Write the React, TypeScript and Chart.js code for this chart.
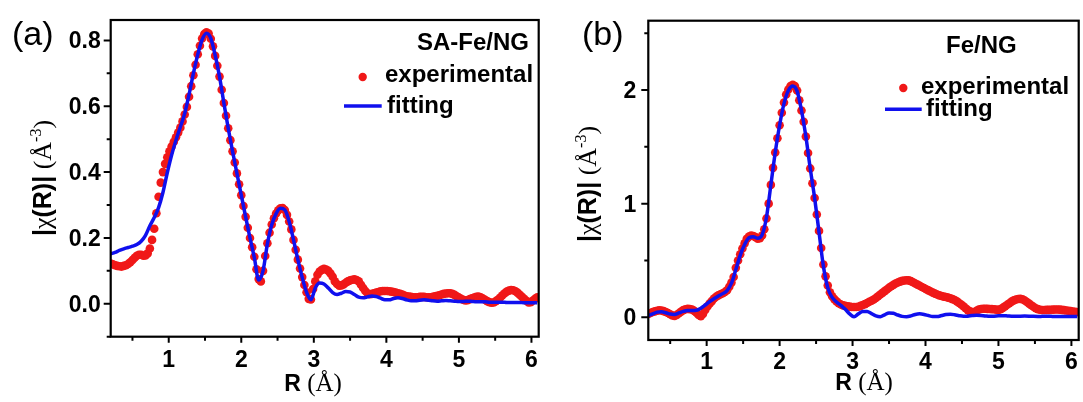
import React, { useEffect, useRef } from "react";
import { Chart, registerables } from "chart.js";
Chart.register(...registerables);

// sampling grid of the R axis (Å)
const R_START = 0.2;
const EXP_STEP = 0.03;
const FIT_STEP = 0.06;
const X_MIN = 0.2;
const X_MAX = 6.1;
const X_MAJOR = [1, 2, 3, 4, 5, 6];
const X_MINOR = [0.5, 1.5, 2.5, 3.5, 4.5, 5.5];

// (a) SA-Fe/NG
const A_Y_MAJOR = [0, 0.2, 0.4, 0.6, 0.8];
const A_Y_MINOR = [-0.1, 0.1, 0.3, 0.5, 0.7];
const A_EXP = [
  0.122, 0.120, 0.117, 0.115, 0.114, 0.113, 0.115, 0.117, 0.121, 0.126,
  0.133, 0.140, 0.146, 0.149, 0.149, 0.146, 0.147, 0.153, 0.168, 0.194,
  0.228, 0.275, 0.325, 0.368, 0.400, 0.425, 0.445, 0.463, 0.478, 0.492,
  0.506, 0.520, 0.535, 0.554, 0.575, 0.598, 0.629, 0.661, 0.694, 0.726,
  0.758, 0.784, 0.806, 0.819, 0.825, 0.821, 0.805, 0.782, 0.753, 0.723,
  0.690, 0.650, 0.610, 0.571, 0.533, 0.497, 0.463, 0.429, 0.396, 0.363,
  0.330, 0.297, 0.264, 0.231, 0.200, 0.172, 0.143, 0.105, 0.075, 0.068,
  0.100, 0.145, 0.184, 0.216, 0.241, 0.260, 0.274, 0.284, 0.290, 0.291,
  0.285, 0.270, 0.250, 0.226, 0.194, 0.164, 0.134, 0.107, 0.081, 0.057,
  0.035, 0.015, 0.013, 0.045, 0.068, 0.088, 0.098, 0.103, 0.106, 0.104,
  0.100, 0.092, 0.082, 0.068, 0.060, 0.055, 0.056, 0.059, 0.064, 0.068,
  0.071, 0.073, 0.074, 0.072, 0.068, 0.058, 0.048, 0.039, 0.032, 0.029,
  0.030, 0.032, 0.034, 0.036, 0.038, 0.039, 0.039, 0.039, 0.038, 0.037,
  0.036, 0.034, 0.032, 0.030, 0.028, 0.025, 0.023, 0.022, 0.021, 0.020,
  0.020, 0.020, 0.021, 0.021, 0.021, 0.020, 0.020, 0.020, 0.021, 0.023,
  0.024, 0.026, 0.028, 0.030, 0.031, 0.032, 0.032, 0.030, 0.027, 0.023,
  0.019, 0.015, 0.012, 0.010, 0.011, 0.014, 0.017, 0.019, 0.021, 0.022,
  0.020, 0.016, 0.012, 0.008, 0.005, 0.003, 0.004, 0.008, 0.013, 0.019,
  0.026, 0.032, 0.037, 0.040, 0.042, 0.041, 0.038, 0.033, 0.027, 0.021,
  0.015, 0.009, 0.004, 0.005, 0.010, 0.015, 0.020,
];
const A_FIT = [
  0.152, 0.156, 0.162, 0.167, 0.171, 0.175, 0.180, 0.190, 0.208, 0.237,
  0.262, 0.292, 0.338, 0.398, 0.452, 0.497, 0.537, 0.578, 0.635, 0.700,
  0.757, 0.802, 0.822, 0.806, 0.755, 0.690, 0.610, 0.533, 0.463, 0.396,
  0.330, 0.264, 0.200, 0.140, 0.072, 0.100, 0.182, 0.240, 0.274, 0.290,
  0.285, 0.250, 0.194, 0.134, 0.080, 0.035, 0.012, 0.048, 0.063, 0.060,
  0.048, 0.034, 0.028, 0.032, 0.037, 0.036, 0.028, 0.020, 0.018, 0.021,
  0.024, 0.022, 0.017, 0.012, 0.012, 0.016, 0.018, 0.016, 0.012, 0.009,
  0.009, 0.011, 0.012, 0.011, 0.009, 0.008, 0.009, 0.010, 0.009, 0.008,
  0.007, 0.007, 0.008, 0.007, 0.006, 0.006, 0.006, 0.005, 0.005, 0.005,
  0.005, 0.004, 0.004, 0.004, 0.004, 0.003, 0.003, 0.003, 0.003,
];

// (b) Fe/NG
const B_Y_MAJOR = [0, 1, 2];
const B_Y_MINOR = [0.5, 1.5, 2.5];
const B_EXP = [
  0.030, 0.038, 0.046, 0.052, 0.058, 0.062, 0.060, 0.054, 0.047, 0.038,
  0.027, 0.016, 0.012, 0.020, 0.035, 0.050, 0.063, 0.071, 0.074, 0.072,
  0.068, 0.056, 0.040, 0.020, 0.010, 0.030, 0.065, 0.095, 0.120, 0.142,
  0.165, 0.180, 0.193, 0.203, 0.212, 0.222, 0.238, 0.268, 0.305, 0.355,
  0.435, 0.500, 0.555, 0.605, 0.650, 0.690, 0.710, 0.720, 0.715, 0.705,
  0.692, 0.695, 0.720, 0.775, 0.870, 1.000, 1.165, 1.315, 1.450, 1.575,
  1.690, 1.800, 1.890, 1.960, 2.005, 2.035, 2.045, 2.035, 1.995, 1.910,
  1.820, 1.720, 1.590, 1.445, 1.310, 1.180, 1.050, 0.905, 0.760, 0.610,
  0.465, 0.360, 0.280, 0.220, 0.185, 0.160, 0.140, 0.123, 0.112, 0.105,
  0.100, 0.097, 0.094, 0.091, 0.090, 0.090, 0.093, 0.100, 0.108, 0.116,
  0.126, 0.136, 0.145, 0.157, 0.170, 0.185, 0.200, 0.215, 0.230, 0.245,
  0.260, 0.273, 0.285, 0.297, 0.306, 0.314, 0.320, 0.324, 0.326, 0.325,
  0.318, 0.308, 0.297, 0.287, 0.277, 0.267, 0.257, 0.247, 0.237, 0.227,
  0.217, 0.208, 0.200, 0.193, 0.187, 0.182, 0.178, 0.173, 0.167, 0.160,
  0.152, 0.140, 0.126, 0.112, 0.097, 0.080, 0.063, 0.052, 0.046, 0.047,
  0.058, 0.068, 0.073, 0.075, 0.075, 0.074, 0.073, 0.072, 0.070, 0.067,
  0.065, 0.072, 0.083, 0.096, 0.110, 0.124, 0.138, 0.149, 0.156, 0.161,
  0.162, 0.158, 0.148, 0.134, 0.120, 0.106, 0.092, 0.080, 0.072, 0.066,
  0.064, 0.064, 0.065, 0.065, 0.066, 0.067, 0.068, 0.068, 0.067, 0.065,
  0.063, 0.060, 0.057, 0.054, 0.051, 0.048, 0.045,
];
const B_FIT = [
  0.015, 0.030, 0.045, 0.048, 0.040, 0.028, 0.025, 0.038, 0.052, 0.060,
  0.060, 0.062, 0.080, 0.108, 0.138, 0.163, 0.187, 0.208, 0.235, 0.300,
  0.420, 0.545, 0.640, 0.700, 0.708, 0.695, 0.725, 0.880, 1.165, 1.450,
  1.690, 1.880, 1.995, 2.035, 1.990, 1.820, 1.590, 1.310, 1.050, 0.750,
  0.450, 0.260, 0.175, 0.135, 0.105, 0.070, 0.030, 0.005, 0.030, 0.050,
  0.050, 0.032, 0.012, 0.005, 0.022, 0.038, 0.035, 0.020, 0.008, 0.005,
  0.012, 0.025, 0.030, 0.025, 0.015, 0.007, 0.006, 0.015, 0.024, 0.027,
  0.022, 0.014, 0.009, 0.010, 0.015, 0.018, 0.016, 0.012, 0.009, 0.010,
  0.013, 0.014, 0.012, 0.009, 0.008, 0.010, 0.011, 0.010, 0.008, 0.007,
  0.008, 0.009, 0.008, 0.007, 0.007, 0.007, 0.006, 0.006, 0.006,
];

const RED = "#f01818";
const BLUE = "#1010ee";
const SANS = '"Liberation Sans", Arial, sans-serif';
const SERIF = '"Liberation Serif", "Times New Roman", serif';

type Piece = { t: string; font: string; dy?: number };

function drawPieces(ctx: CanvasRenderingContext2D, pieces: Piece[], x: number, y: number, align: "left" | "center" | "right") {
  ctx.textAlign = "left";
  ctx.textBaseline = "alphabetic";
  const widths = pieces.map((p) => {
    ctx.font = p.font;
    return ctx.measureText(p.t).width;
  });
  const total = widths.reduce((a, b) => a + b, 0);
  let cx = align === "center" ? x - total / 2 : align === "right" ? x - total : x;
  pieces.forEach((p, i) => {
    ctx.font = p.font;
    ctx.fillText(p.t, cx, y + (p.dy || 0));
    cx += widths[i];
  });
}

const Y_TITLE: Piece[] = [
  { t: "|", font: `bold 25px ${SANS}` },
  { t: "χ", font: `26px ${SERIF}` },
  { t: "(R)|", font: `bold 25px ${SANS}` },
  { t: " (", font: `26px ${SERIF}` },
  { t: "Å", font: `26px ${SERIF}` },
  { t: "-3", font: `16px ${SERIF}`, dy: -10 },
  { t: ")", font: `26px ${SERIF}` },
];
const X_TITLE: Piece[] = [
  { t: "R ", font: `bold 23px ${SANS}` },
  { t: "(Å)", font: `25px ${SERIF}` },
];

type Cfg = {
  offsetX: number;
  w: number;
  pad: { left: number; top: number; right: number; bottom: number };
  yMin: number;
  yMax: number;
  yMajor: number[];
  yMinor: number[];
  yFmt: (v: number) => string;
  exp: number[];
  fit: number[];
  xLabelBase: number;
  yLabelGap: number;
  yTitle: { x: number; y: number };
  xTitle: { x: number; y: number };
  label: { t: string; x: number; y: number };
  legend: {
    title: string;
    titleX: number;
    titleAlign: "left" | "right";
    titleY: number;
    dotX: number;
    dotY: number;
    expX: number;
    expY: number;
    lineX1: number;
    lineX2: number;
    lineY: number;
    fitX: number;
    fitY: number;
  };
};

const CFG_A: Cfg = {
  offsetX: 0,
  w: 545,
  pad: { left: 110.7, top: 20, right: 6.3, bottom: 65.3 },
  yMin: -0.1,
  yMax: 0.862,
  yMajor: A_Y_MAJOR,
  yMinor: A_Y_MINOR,
  yFmt: (v) => v.toFixed(1),
  exp: A_EXP,
  fit: A_FIT,
  xLabelBase: 367,
  yLabelGap: 10,
  yTitle: { x: 42, y: 178 },
  xTitle: { x: 313, y: 391 },
  label: { t: "(a)", x: 12, y: 45 },
  legend: {
    title: "SA-Fe/NG",
    titleX: 529,
    titleAlign: "right",
    titleY: 50,
    dotX: 362.7,
    dotY: 77,
    expX: 385,
    expY: 82,
    lineX1: 344,
    lineX2: 381.7,
    lineY: 106,
    fitX: 387,
    fitY: 113,
  },
};

const CFG_B: Cfg = {
  offsetX: 545,
  w: 538,
  pad: { left: 103.3, top: 20.7, right: 3, bottom: 62 },
  yMin: -0.2,
  yMax: 2.61,
  yMajor: B_Y_MAJOR,
  yMinor: B_Y_MINOR,
  yFmt: (v) => String(v),
  exp: B_EXP,
  fit: B_FIT,
  xLabelBase: 369,
  yLabelGap: 12,
  yTitle: { x: 587, y: 184 },
  xTitle: { x: 864, y: 390 },
  label: { t: "(b)", x: 582, y: 45 },
  legend: {
    title: "Fe/NG",
    titleX: 946,
    titleAlign: "left",
    titleY: 53,
    dotX: 903.3,
    dotY: 88,
    expX: 921,
    expY: 94,
    lineX1: 885,
    lineX2: 921.7,
    lineY: 109.3,
    fitX: 926,
    fitY: 116,
  },
};

function decor(cfg: Cfg) {
  return {
    id: "decor",
    afterDraw(chart: any) {
      const ctx: CanvasRenderingContext2D = chart.ctx;
      const { left, top, right, bottom } = chart.chartArea;
      const xs = chart.scales.x;
      const ys = chart.scales.y;
      const ox = cfg.offsetX;
      ctx.save();
      ctx.strokeStyle = "#000";
      ctx.fillStyle = "#000";
      ctx.lineWidth = 2.2;
      ctx.strokeRect(left, top, right - left, bottom - top);
      ctx.lineWidth = 2;
      ctx.beginPath();
      X_MAJOR.forEach((v) => {
        const px = xs.getPixelForValue(v);
        ctx.moveTo(px, bottom);
        ctx.lineTo(px, bottom + 6);
      });
      X_MINOR.forEach((v) => {
        const px = xs.getPixelForValue(v);
        ctx.moveTo(px, bottom);
        ctx.lineTo(px, bottom + 4);
      });
      cfg.yMajor.forEach((v) => {
        const py = ys.getPixelForValue(v);
        ctx.moveTo(left, py);
        ctx.lineTo(left - 7, py);
      });
      cfg.yMinor.forEach((v) => {
        const py = ys.getPixelForValue(v);
        ctx.moveTo(left, py);
        ctx.lineTo(left - 4, py);
      });
      ctx.stroke();

      // tick labels
      ctx.font = `bold 23px ${SANS}`;
      ctx.textBaseline = "alphabetic";
      ctx.textAlign = "center";
      X_MAJOR.forEach((v) => {
        ctx.fillText(String(v), xs.getPixelForValue(v), cfg.xLabelBase);
      });
      ctx.textAlign = "right";
      cfg.yMajor.forEach((v) => {
        ctx.fillText(cfg.yFmt(v), left - cfg.yLabelGap, ys.getPixelForValue(v) + 8);
      });

      // axis titles
      drawPieces(ctx, X_TITLE, cfg.xTitle.x - ox, cfg.xTitle.y, "center");
      ctx.save();
      ctx.translate(cfg.yTitle.x - ox, cfg.yTitle.y);
      ctx.rotate(-Math.PI / 2);
      drawPieces(ctx, Y_TITLE, 0, 9, "center");
      ctx.restore();

      // panel label
      ctx.font = `34px ${SANS}`;
      ctx.textAlign = "left";
      ctx.fillText(cfg.label.t, cfg.label.x - ox, cfg.label.y);

      // legend
      const L = cfg.legend;
      ctx.font = `bold 24px ${SANS}`;
      ctx.textAlign = L.titleAlign;
      ctx.fillText(L.title, L.titleX - ox, L.titleY);
      ctx.textAlign = "left";
      ctx.fillText("experimental", L.expX - ox, L.expY);
      ctx.fillText("fitting", L.fitX - ox, L.fitY);
      ctx.fillStyle = RED;
      ctx.beginPath();
      ctx.arc(L.dotX - ox, L.dotY, 4.2, 0, Math.PI * 2);
      ctx.fill();
      ctx.strokeStyle = BLUE;
      ctx.lineWidth = 3.5;
      ctx.beginPath();
      ctx.moveTo(L.lineX1 - ox, L.lineY);
      ctx.lineTo(L.lineX2 - ox, L.lineY);
      ctx.stroke();
      ctx.restore();
    },
  };
}

function Panel({ cfg }: { cfg: Cfg }) {
  const ref = useRef<HTMLCanvasElement>(null);
  useEffect(() => {
    const expPts = cfg.exp.map((v, i) => ({ x: R_START + i * EXP_STEP, y: v }));
    const fitPts = cfg.fit.map((v, i) => ({ x: R_START + i * FIT_STEP, y: v }));
    const chart = new Chart(ref.current as HTMLCanvasElement, {
      type: "line",
      data: {
        datasets: [
          {
            label: "fitting",
            data: fitPts,
            borderColor: BLUE,
            borderWidth: 3.5,
            pointRadius: 0,
            fill: false,
            cubicInterpolationMode: "monotone",
            order: 0,
          },
          {
            label: "experimental",
            data: expPts,
            showLine: false,
            pointRadius: 4.3,
            pointBorderWidth: 0,
            pointBackgroundColor: RED,
            borderColor: RED,
            backgroundColor: RED,
            order: 1,
          },
        ],
      } as any,
      options: {
        animation: false,
        responsive: false,
        events: [],
        layout: { padding: cfg.pad },
        plugins: { legend: { display: false }, tooltip: { enabled: false } },
        scales: {
          x: { type: "linear", display: false, min: X_MIN, max: X_MAX },
          y: { type: "linear", display: false, min: cfg.yMin, max: cfg.yMax },
        },
      } as any,
      plugins: [decor(cfg)],
    });
    return () => chart.destroy();
  }, [cfg]);
  return (
    <canvas
      ref={ref}
      width={cfg.w}
      height={402}
      style={{ position: "absolute", left: cfg.offsetX, top: 0, width: cfg.w, height: 402 }}
    />
  );
}

export default function App() {
  return (
    <div style={{ position: "absolute", left: 0, top: 0, width: 1083, height: 402, background: "#fff" }}>
      <Panel cfg={CFG_A} />
      <Panel cfg={CFG_B} />
    </div>
  );
}
